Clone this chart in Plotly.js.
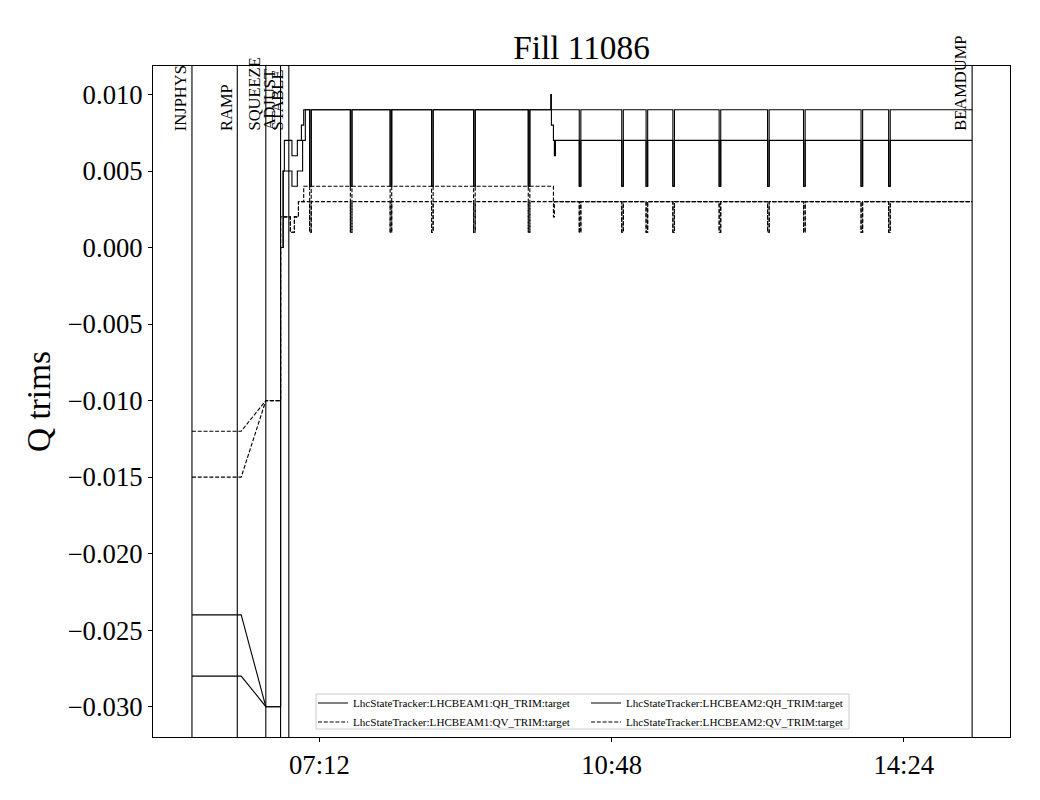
<!DOCTYPE html>
<html><head><meta charset="utf-8">
<script src="https://cdn.plot.ly/plotly-3.0.1.min.js"></script>
<style>html,body{margin:0;padding:0;background:#fff}#chart{width:1040px;height:800px}</style>
</head><body><div id="chart"></div>
<script>
const DAY = '2025-08-24';
const phaseNames = ['INJPHYS', 'RAMP', 'SQUEEZE', 'ADJUST', 'STABLE', 'BEAMDUMP'];
const phaseTimes = ['05:37:48', '06:11:18', '06:32:24', '06:43:18', '06:49:24', '15:14:30'];
const spikeTimes = ['07:04:48', '07:34:54', '08:04:18', '08:34:54', '09:06:00', '09:46:24', '10:24:06',
  '10:55:30', '11:13:30', '11:33:18', '12:07:30', '12:43:18', '13:09:54', '13:52:24', '14:12:48'];
const qhSpikeLow = 0.004;
const qvSpikeLow = 0.001;

const qhB1Times = ['05:37:48', '06:14:12', '06:32:24', '06:43:18', '06:43:18', '06:45:12', '06:45:12', '06:46:06', '06:46:06',
  '06:51:42', '06:51:42', '06:55:42', '06:55:42', '06:58:42', '06:58:42', '07:00:24', '07:00:24', '15:14:30'];
const qhB1Values = [-0.024, -0.024, -0.030, -0.030, 0.000, 0.000, 0.005, 0.005, 0.007,
  0.007, 0.006, 0.006, 0.007, 0.007, 0.008, 0.008, 0.009, 0.009];

const qhB2Times = ['05:37:48', '06:14:12', '06:32:24', '06:43:18', '06:43:18', '06:45:12', '06:45:12', '06:51:42', '06:51:42',
  '06:55:42', '06:55:42', '06:59:36', '06:59:36', '07:01:36', '07:01:36', '10:03:00', '10:03:00', '10:03:30', '10:03:30',
  '10:05:00', '10:05:00', '10:05:42', '10:05:42', '10:06:30', '10:06:30', '15:14:30'];
const qhB2Values = [-0.028, -0.028, -0.030, -0.030, 0.000, 0.000, 0.005, 0.005, 0.004,
  0.004, 0.005, 0.005, 0.007, 0.007, 0.009, 0.009, 0.010, 0.010, 0.008,
  0.008, 0.007, 0.007, 0.006, 0.006, 0.007, 0.007];

const qvB1Times = ['05:37:48', '06:14:12', '06:32:24', '06:43:18', '06:43:18', '06:50:30', '06:50:30', '06:53:30', '06:53:30',
  '06:56:30', '06:56:30', '07:00:24', '07:00:24', '10:05:00', '10:05:00', '10:05:42', '10:05:42', '15:14:30'];
const qvB1Values = [-0.012, -0.012, -0.010, -0.010, 0.002, 0.002, 0.001, 0.001, 0.002,
  0.002, 0.003, 0.003, 0.004, 0.004, 0.002, 0.002, 0.003, 0.003];

const qvB2Times = ['05:37:48', '06:14:12', '06:32:24', '06:43:18', '06:43:18', '06:50:30', '06:50:30', '06:53:30', '06:53:30',
  '06:56:30', '06:56:30', '15:14:30'];
const qvB2Values = [-0.015, -0.015, -0.010, -0.010, 0.002, 0.002, 0.001, 0.001, 0.002,
  0.002, 0.003, 0.003];

const seriesNames = ['LhcStateTracker:LHCBEAM1:QH_TRIM:target', 'LhcStateTracker:LHCBEAM1:QV_TRIM:target',
  'LhcStateTracker:LHCBEAM2:QH_TRIM:target', 'LhcStateTracker:LHCBEAM2:QV_TRIM:target'];

const xRange = ['05:09:00', '15:42:30'];
const yRange = [-0.03198, 0.01186];

function sec(hms) { const p = hms.split(':').map(Number); return p[0] * 3600 + p[1] * 60 + (p[2] || 0); }
function p2(n) { return String(n).padStart(2, '0'); }
function stamp(s) {
  const h = Math.floor(s / 3600), m = Math.floor((s % 3600) / 60), ss = Math.round(s % 60);
  return DAY + ' ' + p2(h) + ':' + p2(m) + ':' + p2(ss);
}
function withSpikes(times, values, low) {
  const pts = times.map((t, i) => [sec(t), values[i]]);
  const extra = [];
  spikeTimes.forEach(st => {
    const ts = sec(st);
    let base = pts[0][1];
    for (const p of pts) { if (p[0] <= ts) base = p[1]; }
    extra.push([ts, base], [ts, low], [ts + 70, low], [ts + 70, base]);
  });
  const all = pts.concat(extra).sort((a, b) => a[0] - b[0]);
  return { x: all.map(p => stamp(p[0])), y: all.map(p => p[1]) };
}

const FONT = 'Liberation Serif, Times New Roman, serif';
const dashed = '4px,1.8px';
function trace(times, values, low, name, dash, legend) {
  const d = withSpikes(times, values, low);
  return { type: 'scatter', mode: 'lines', x: d.x, y: d.y, name: name, legend: legend,
    line: { color: '#000', width: 1.1, dash: dash } };
}
const data = [
  trace(qhB1Times, qhB1Values, qhSpikeLow, seriesNames[0], 'solid', 'legend'),
  trace(qvB1Times, qvB1Values, qvSpikeLow, seriesNames[1], dashed, 'legend'),
  trace(qhB2Times, qhB2Values, qhSpikeLow, seriesNames[2], 'solid', 'legend2'),
  trace(qvB2Times, qvB2Values, qvSpikeLow, seriesNames[3], dashed, 'legend2')
];

const M = { l: 153, r: 30, t: 66, b: 63 };
const PW = 1040 - M.l - M.r, PH = 800 - M.t - M.b;
const px = x => (x - M.l) / PW;
const py = y => 1 - (y - M.t) / PH;

const shapes = phaseTimes.map(t => ({ type: 'line', xref: 'x', yref: 'paper', x0: DAY + ' ' + t, x1: DAY + ' ' + t,
  y0: 0, y1: 1, line: { color: '#000', width: 1.1 } }));
shapes.push({ type: 'rect', xref: 'paper', yref: 'paper', layer: 'below', x0: px(316), x1: px(849), y0: py(729), y1: py(694),
  line: { color: '#cccccc', width: 1 }, fillcolor: '#fff' });

const annotations = phaseNames.map((n, i) => ({ text: n, x: DAY + ' ' + phaseTimes[i], y: 0.0075, xref: 'x', yref: 'y',
  textangle: -90, xanchor: 'right', yanchor: 'bottom', showarrow: false, font: { family: FONT, size: 16.5, color: '#000' } }));

const legendCommon = { bgcolor: 'rgba(0,0,0,0)', borderwidth: 0, font: { family: FONT, size: 11.1, color: '#000' },
  xanchor: 'left', yanchor: 'top', orientation: 'v' };

const layout = {
  width: 1040, height: 800, margin: M, paper_bgcolor: '#fff', plot_bgcolor: '#fff',
  font: { family: FONT, color: '#000' },
  title: { text: 'Fill 11086', font: { family: FONT, size: 33.3, color: '#000' }, xref: 'paper', x: 0.5, xanchor: 'center',
    yref: 'container', y: 1 - 47.8 / 800, yanchor: 'middle' },
  xaxis: { type: 'date', range: xRange.map(t => DAY + ' ' + t), tickformat: '%H:%M', tick0: DAY + ' 00:00:00', dtick: 12960000,
    showgrid: false, zeroline: false, showline: true, mirror: true, linecolor: '#000', linewidth: 1,
    ticks: 'outside', ticklen: 4, tickwidth: 1, tickcolor: '#000', tickfont: { family: FONT, size: 26.7, color: '#000' } },
  yaxis: { range: yRange, tick0: 0, dtick: 0.005, tickformat: '.3f', showgrid: false, zeroline: false, showline: true, mirror: true,
    linecolor: '#000', linewidth: 1, ticks: 'outside', ticklen: 4, tickwidth: 1, tickcolor: '#000',
    tickfont: { family: FONT, size: 26.7, color: '#000' },
    title: { text: 'Q trims', font: { family: FONT, size: 33.3, color: '#000' }, standoff: 6 } },
  legend: Object.assign({ x: px(313), y: py(688.5) }, legendCommon),
  legend2: Object.assign({ x: px(586), y: py(688.5) }, legendCommon),
  shapes: shapes, annotations: annotations
};
Plotly.newPlot('chart', data, layout, { staticPlot: true, displayModeBar: false });
</script></body></html>
